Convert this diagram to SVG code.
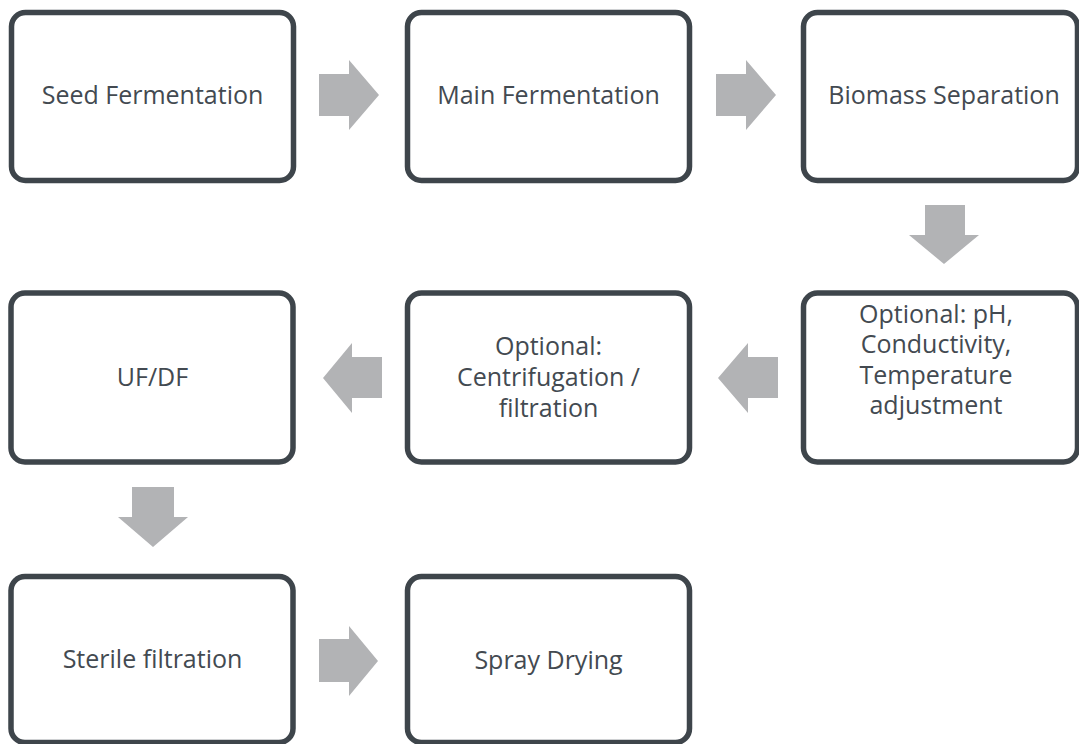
<svg xmlns="http://www.w3.org/2000/svg" width="1079" height="744" viewBox="0 0 1079 744">
<style>
.box{fill:#ffffff;stroke:#3e454b;stroke-width:5.5}
.lbl{font-family:"Open Sans","Noto Sans",sans-serif;font-size:25px;fill:#434a51;text-anchor:middle}
.arr{fill:#b2b3b5;stroke:none}
</style>
<rect width="1079" height="744" fill="#ffffff"/>
<g id="connectors">
<polygon class="arr" points="319,74 349,74 349,60 379,95 349,130 349,116 319,116"/>
<polygon class="arr" points="716,74 746,74 746,60 776,95 746,130 746,116 716,116"/>
<polygon class="arr" points="925,205 965,205 965,235 979,235 944,264 909,235 925,235"/>
<polygon class="arr" points="778,357 748,357 748,343 718,378 748,413 748,398 778,398"/>
<polygon class="arr" points="382,357 352,357 352,343 323,378 352,413 352,398 382,398"/>
<polygon class="arr" points="132,487 174,487 174,517 188,517 153,547 118,517 132,517"/>
<polygon class="arr" points="319,639 349,639 349,626 378,661 349,696 349,682 319,682"/>
</g>
<g id="n1"><rect class="box" x="11.5" y="12.5" width="282" height="168" rx="14"/><text class="lbl" x="152.5" y="104">Seed Fermentation</text></g>
<g id="n2"><rect class="box" x="407.5" y="12.5" width="282" height="168" rx="14"/><text class="lbl" x="548.5" y="104">Main Fermentation</text></g>
<g id="n3"><rect class="box" x="803.5" y="12.5" width="274" height="168" rx="14"/><text class="lbl" x="944" y="104">Biomass Separation</text></g>
<g id="n4"><rect class="box" x="803.5" y="293" width="274" height="169" rx="14"/><text class="lbl" x="936" y="323">Optional: pH,</text><text class="lbl" x="936" y="353">Conductivity,</text><text class="lbl" x="936" y="384">Temperature</text><text class="lbl" x="936" y="414">adjustment</text></g>
<g id="n5"><rect class="box" x="407.5" y="293" width="282" height="169" rx="14"/><text class="lbl" x="548.5" y="355">Optional:</text><text class="lbl" x="548.5" y="386">Centrifugation /</text><text class="lbl" x="548.5" y="417">filtration</text></g>
<g id="n6"><rect class="box" x="11" y="293" width="282" height="169" rx="14"/><text class="lbl" x="152.5" y="386">UF/DF</text></g>
<g id="n7"><rect class="box" x="11" y="576.5" width="282" height="166" rx="14"/><text class="lbl" x="152.5" y="668">Sterile filtration</text></g>
<g id="n8"><rect class="box" x="407.5" y="576.5" width="282" height="166" rx="14"/><text class="lbl" x="548.5" y="669">Spray Drying</text></g>
</svg>
